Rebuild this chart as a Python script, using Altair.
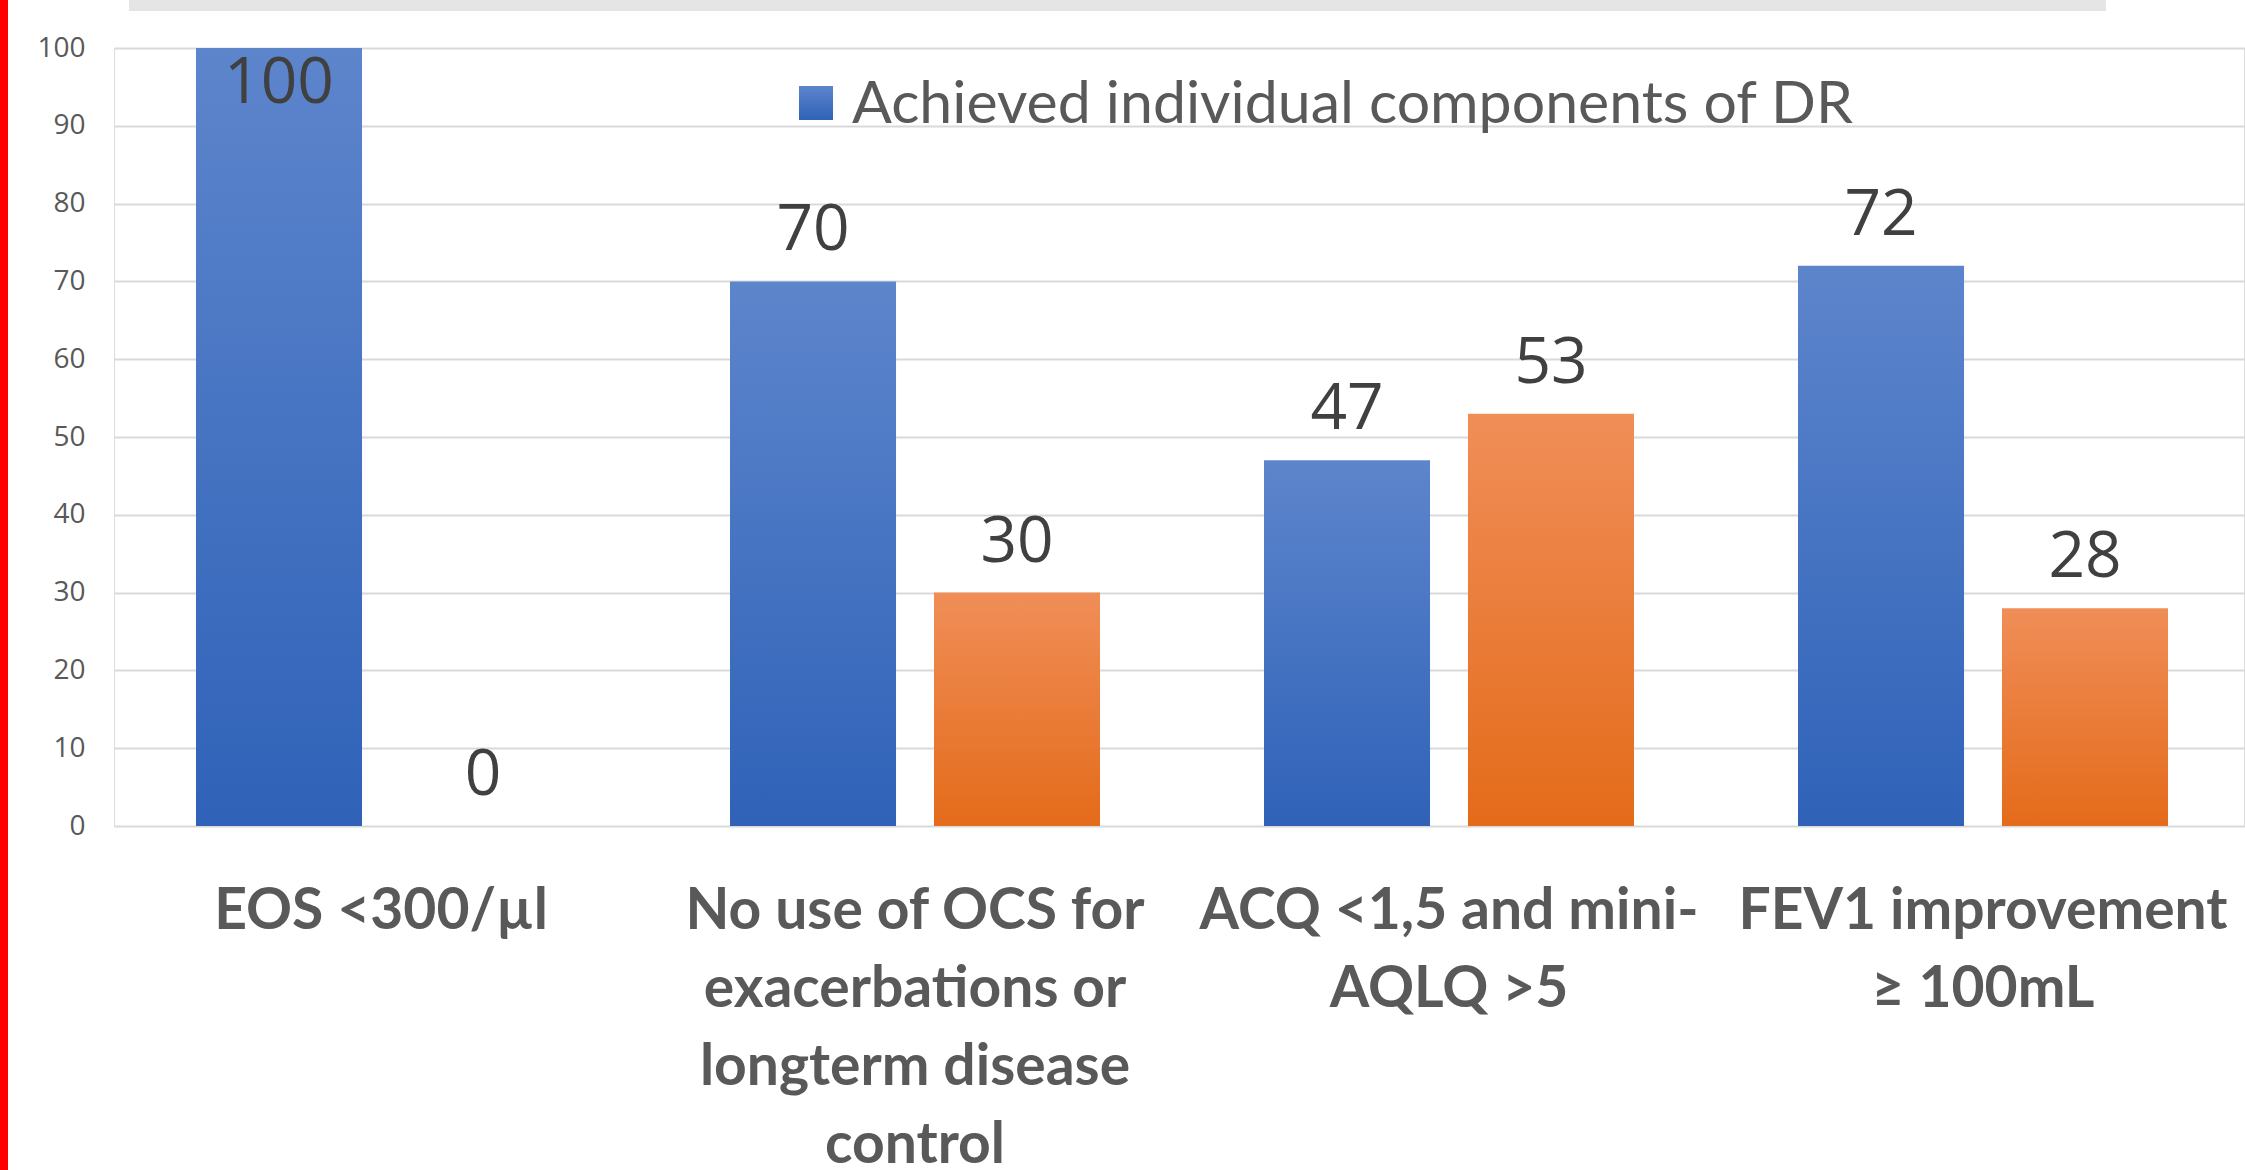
import altair as alt
import pandas as pd

# Categories; "|" marks the line breaks used in the axis labels
categories = [
    "EOS <300/µl",
    "No use of OCS for|exacerbations or|longterm disease|control",
    "ACQ <1,5 and mini-|AQLQ >5",
    "FEV1 improvement|≥ 100mL",
]
series = ["Achieved individual components of DR", "Not achieved"]
achieved = [100, 70, 47, 72]
not_achieved = [0, 30, 53, 28]

rows = []
for cat, a, n in zip(categories, achieved, not_achieved):
    rows.append({"category": cat, "series": series[0], "value": a})
    rows.append({"category": cat, "series": series[1], "value": n})
df = pd.DataFrame(rows)

W, H = 2130, 778
PAD = {"left": 114, "top": 48, "right": 1, "bottom": 344}

blue_grad = alt.LinearGradient(
    gradient="linear",
    stops=[alt.GradientStop(color="#5D85CC", offset=0),
           alt.GradientStop(color="#2F62B8", offset=1)],
    x1=0, x2=0, y1=0, y2=1,
)
orange_grad = alt.LinearGradient(
    gradient="linear",
    stops=[alt.GradientStop(color="#F08E58", offset=0),
           alt.GradientStop(color="#E46B1A", offset=1)],
    x1=0, x2=0, y1=0, y2=1,
)

x_enc = alt.X(
    "category:N",
    sort=categories,
    scale=alt.Scale(paddingInner=0, paddingOuter=0, range=[0, 2136]),
    axis=alt.Axis(
        title=None, labelAngle=0, domain=False, ticks=False,
        labelExpr="split(datum.label, '|')",
        labelFont="Lato", labelFontWeight="bold", labelFontSize=57,
        labelColor="#595959", labelPadding=57, labelLineHeight=78,
        labelLimit=2000,
    ),
)
xo_enc = alt.XOffset(
    "series:N", sort=series,
    scale=alt.Scale(domain=series, paddingInner=0.186, paddingOuter=0.402),
)
y_enc = alt.Y(
    "value:Q",
    scale=alt.Scale(domain=[0, 100], nice=False),
    axis=alt.Axis(
        title=None, values=list(range(0, 101, 10)), domain=False, ticks=False,
        grid=True, gridColor="#D9D9D9", gridWidth=2,
        labelFont="Open Sans", labelFontSize=28, labelColor="#595959",
        labelPadding=29,
    ),
)

base = alt.Chart(df).encode(x=x_enc, xOffset=xo_enc, y=y_enc)

bars_a = base.transform_filter(alt.datum.series == series[0]).mark_bar(
    color=blue_grad
)
bars_b = base.transform_filter(alt.datum.series == series[1]).mark_bar(
    color=orange_grad
)

label_style = dict(font="Open Sans", fontSize=64, color="#404040",
                   baseline="alphabetic", align="center")
labels_above = base.transform_filter(alt.datum.value < 100).mark_text(
    dy=-31, **label_style
).encode(text=alt.Text("value:Q"))
labels_inside = base.transform_filter(alt.datum.value >= 100).mark_text(
    dy=55, **label_style
).encode(text=alt.Text("value:Q"))

# Decorations: red edge line and grey strip at the top
red_edge = alt.Chart(df).mark_rule(color="#FF0000", strokeWidth=7).encode(
    x=alt.value(-110), y=alt.value(-48), y2=alt.value(H + 344)
)
top_strip = alt.Chart(df).mark_rect(color="#E5E5E5").encode(
    x=alt.value(15), x2=alt.value(1992), y=alt.value(-48), y2=alt.value(-37)
)

# Legend (single entry for the first series)
legend_box = alt.Chart(df).mark_rect(color=blue_grad).encode(
    x=alt.value(685), x2=alt.value(719), y=alt.value(38), y2=alt.value(72)
)
legend_text = alt.Chart(pd.DataFrame({"t": [series[0]]})).mark_text(
    font="Lato", fontSize=59, color="#595959", align="left", baseline="alphabetic"
).encode(x=alt.value(738), y=alt.value(75), text="t:N")

chart = alt.layer(
    red_edge, top_strip, bars_a, bars_b, labels_above, labels_inside,
    legend_box, legend_text,
).properties(
    width=W, height=H,
    autosize=alt.AutoSizeParams(type="none"),
    padding=PAD,
).configure_view(stroke=None).configure(background="white")

chart.save("out.html", embed_options={"renderer": "svg", "actions": False})
